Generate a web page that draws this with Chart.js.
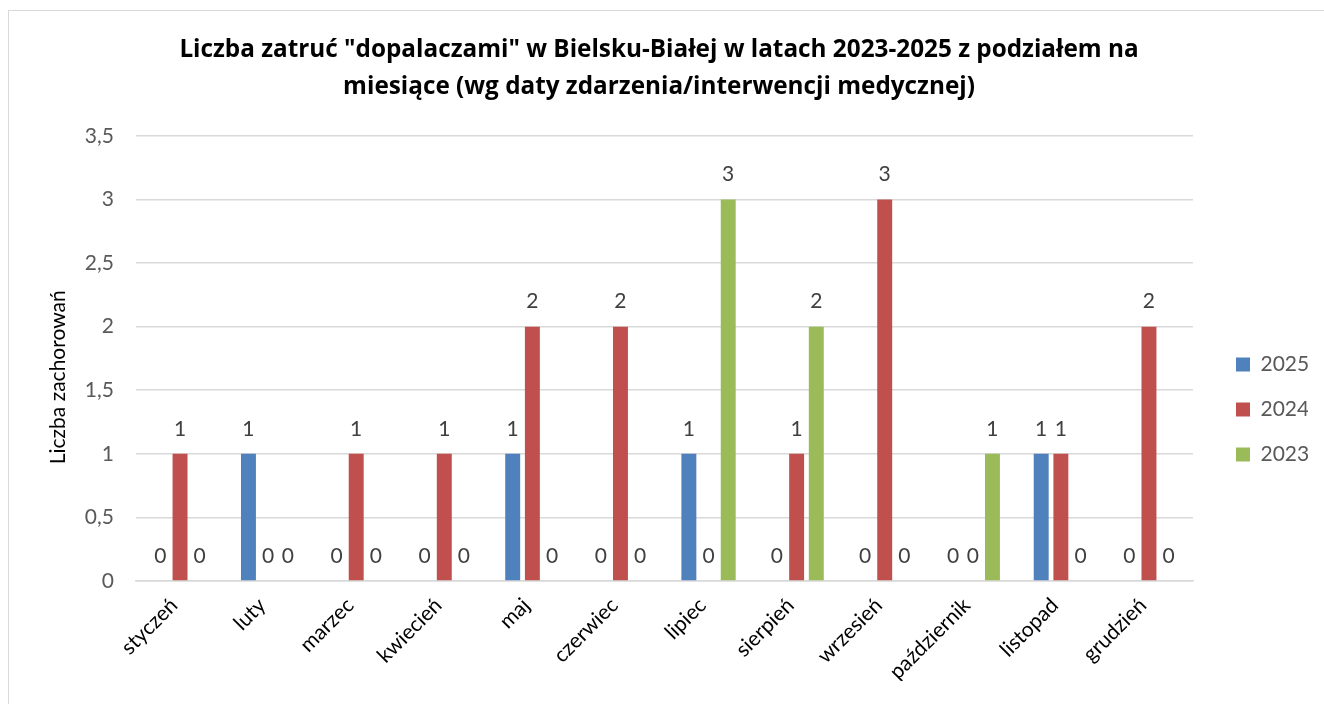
<!DOCTYPE html>
<html lang="pl">
<head>
<meta charset="utf-8">
<script src="https://cdn.jsdelivr.net/npm/chart.js@4.4.1/dist/chart.umd.min.js"></script>
<style>
    html, body { margin: 0; padding: 0; background: #fff; }
    #frame {
        position: absolute; left: 8px; top: 10px; width: 1330px; height: 710px;
        border: 1px solid #d9d9d9; box-sizing: border-box;
    }
    #chart { position: absolute; left: 0; top: 0; }
</style>
</head>
<body>
<div id="frame"></div>
<canvas id="chart" width="1324" height="704"></canvas>
<script>
const months = ['styczeń', 'luty', 'marzec', 'kwiecień', 'maj', 'czerwiec', 'lipiec', 'sierpień', 'wrzesień', 'październik', 'listopad', 'grudzień'];
const values2025 = [0, 1, 0, 0, 1, 0, 1, 0, 0, 0, 1, 0];
const values2024 = [1, 0, 1, 1, 2, 2, 0, 1, 3, 0, 1, 2];
const values2023 = [0, 0, 0, 0, 0, 0, 3, 2, 0, 1, 0, 0];
const seriesNames = ['2025', '2024', '2023'];
const seriesColors = ['#4f81bd', '#c0504d', '#9bbb59'];

const FONT = 'Lato, "Open Sans", sans-serif';

// value labels above each bar (zero too)
const valueLabels = {
    id: 'valueLabels',
    afterDatasetsDraw(chart) {
        const ctx = chart.ctx;
        ctx.save();
        ctx.font = '21px ' + FONT;
        ctx.fillStyle = '#404040';
        ctx.textAlign = 'center';
        ctx.textBaseline = 'middle';
        chart.data.datasets.forEach((ds, i) => {
            chart.getDatasetMeta(i).data.forEach((bar, j) => {
                ctx.fillText(String(ds.data[j]), bar.x, bar.y - 25);
            });
        });
        ctx.restore();
    }
};

const data = {
    labels: months,
    datasets: [values2025, values2024, values2023].map((vals, i) => ({
        label: seriesNames[i],
        data: vals,
        backgroundColor: seriesColors[i],
        categoryPercentage: 0.67,
        barPercentage: 0.76,
    })),
};

const config = {
    type: 'bar',
    data: data,
    options: {
        responsive: false,
        animation: false,
        layout: { padding: { left: 10, right: 16, top: 0, bottom: 23 } },
        plugins: {
            title: {
                display: true,
                text: ['Liczba zatruć "dopalaczami" w Bielsku-Białej w latach 2023-2025 z podziałem na',
                       'miesiące (wg daty zdarzenia/interwencji medycznej)'],
                color: '#000',
                font: { family: '"Open Sans", sans-serif', size: 24.3, weight: 'bold', lineHeight: 1.52 },
                padding: { top: 32, bottom: 30 },
            },
            legend: {
                position: 'right',
                maxWidth: 96,
                // empty title only pushes the items down
                title: { display: true, text: ' ', font: { size: 10, lineHeight: 1 }, padding: { top: 64, bottom: 64 } },
                labels: {
                    boxWidth: 14,
                    boxHeight: 14,
                    padding: 24,
                    color: '#595959',
                    font: { family: FONT, size: 21 },
                },
            },
            tooltip: { enabled: false },
        },
        scales: {
            x: {
                grid: { display: false },
                border: { color: '#d9d9d9', width: 1.5 },
                ticks: {
                    color: '#000',
                    font: { family: FONT, size: 21 },
                    minRotation: 45,
                    maxRotation: 45,
                    padding: 4,
                    labelOffset: -6,
                },
                afterFit(s) { s.height = 704 - 23 - 581; },
            },
            y: {
                min: 0,
                max: 3.5,
                ticks: {
                    stepSize: 0.5,
                    color: '#595959',
                    font: { family: FONT, size: 21 },
                    padding: 22,
                    callback: v => String(v).replace('.', ','),
                },
                grid: { color: '#d9d9d9', lineWidth: 1.5, drawTicks: false },
                border: { display: false },
                title: {
                    display: true,
                    text: 'Liczba zachorowań       ',
                    color: '#000',
                    font: { family: FONT, size: 21 },
                    padding: { top: 36 },
                },
                afterFit(s) { s.width = 126; },
            },
            // spacer between plot and legend
            y2: {
                position: 'right',
                display: true,
                grid: { display: false },
                border: { display: false },
                ticks: { display: false },
                afterFit(s) { s.width = 19; },
            },
        },
    },
    plugins: [valueLabels],
};

new Chart(document.getElementById('chart'), config);
</script>
</body>
</html>
